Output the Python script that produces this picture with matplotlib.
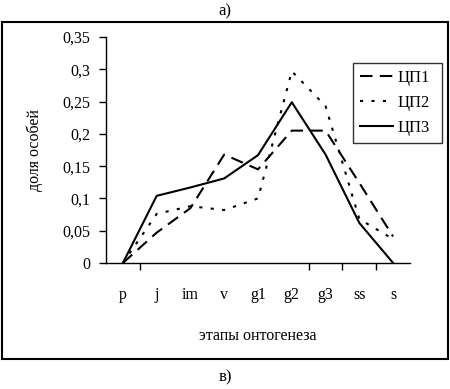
import matplotlib
matplotlib.use("Agg")
import matplotlib.pyplot as plt
from matplotlib.patches import Rectangle
from matplotlib.lines import Line2D

categories = ["p", "j", "im", "v", "g1", "g2", "g3", "ss", "s"]
cp1 = [0.0, 0.047, 0.085, 0.168, 0.145, 0.205, 0.205, 0.124, 0.041]
cp2 = [0.0, 0.076, 0.088, 0.082, 0.100, 0.297, 0.243, 0.068, 0.037]
cp3 = [0.0, 0.104, 0.117, 0.131, 0.167, 0.249, 0.168, 0.062, 0.0]
series_names = ["ЦП1", "ЦП2", "ЦП3"]
yticks = [0, 0.05, 0.1, 0.15, 0.2, 0.25, 0.3, 0.35]
ytick_labels = ["0", "0,05", "0,1", "0,15", "0,2", "0,25", "0,3", "0,35"]
xtick_boundaries = [0.5, 5.5, 6.5, 7.5]

plt.rcParams['font.family'] = ['Liberation Serif', 'DejaVu Serif']

W, H = 450, 389
fig = plt.figure(figsize=(W/100, H/100), dpi=100)

# outer frame
fig.patches.append(Rectangle((2/W, 1 - 359/H), 446/W, (359-22)/H, transform=fig.transFigure,
                             fill=False, edgecolor='black', linewidth=1.5))

ax = fig.add_axes([106/W, 1 - 263/H, (410-106)/W, (263-37)/H])
x = list(range(len(categories)))
ax.plot(x, cp1, color='black', linewidth=1.5, linestyle=(0, (6, 3.5)))
ax.plot(x, cp2, color='black', linewidth=1.5, linestyle=(0, (1.5, 4)))
ax.plot(x, cp3, color='black', linewidth=1.5, linestyle='-')

ax.set_xlim(-0.5, 8.5)
ax.set_ylim(0, 0.35)
for s in ['top', 'right']:
    ax.spines[s].set_visible(False)
for s in ['left', 'bottom']:
    ax.spines[s].set_linewidth(1.0)

ax.set_yticks(yticks)
ax.set_yticklabels(ytick_labels, fontsize=11.5)
ax.tick_params(axis='y', direction='out', length=5, width=1, pad=6)

ax.set_xticks(xtick_boundaries)
ax.set_xticklabels([""] * len(xtick_boundaries))
ax.tick_params(axis='x', direction='out', length=5, width=1)
for i, c in enumerate(categories):
    ax.text(i, -0.05, c, ha='center', va='center', fontsize=11.5,
            transform=ax.transData, clip_on=False)

ax.set_ylabel("доля особей", fontsize=11.5, labelpad=14)
ax.text(4, -0.113, "этапы онтогенеза", ha='center', va='center', fontsize=11.5,
        transform=ax.transData, clip_on=False)

# legend
handles = [Line2D([], [], color='black', lw=1.5, linestyle=(0, (6, 3.5))),
           Line2D([], [], color='black', lw=1.5, linestyle=(0, (1.5, 4))),
           Line2D([], [], color='black', lw=1.5, linestyle='-')]
leg = fig.legend(handles, series_names, loc='upper left',
                 bbox_to_anchor=(353/W, 1 - 153/H, (442-353)/W, (153-63)/H),
                 mode='expand', fontsize=12, frameon=True, fancybox=False,
                 edgecolor='black', handlelength=2.0, handletextpad=0.3,
                 borderpad=0.4, labelspacing=0.55, borderaxespad=0)
leg.get_frame().set_linewidth(1.0)

fig.text(0.5, 1 - 11/H, "а)", ha='center', va='center', fontsize=12)
fig.text(0.5, 1 - 377/H, "в)", ha='center', va='center', fontsize=12)

fig.savefig("out.png", dpi=100)
